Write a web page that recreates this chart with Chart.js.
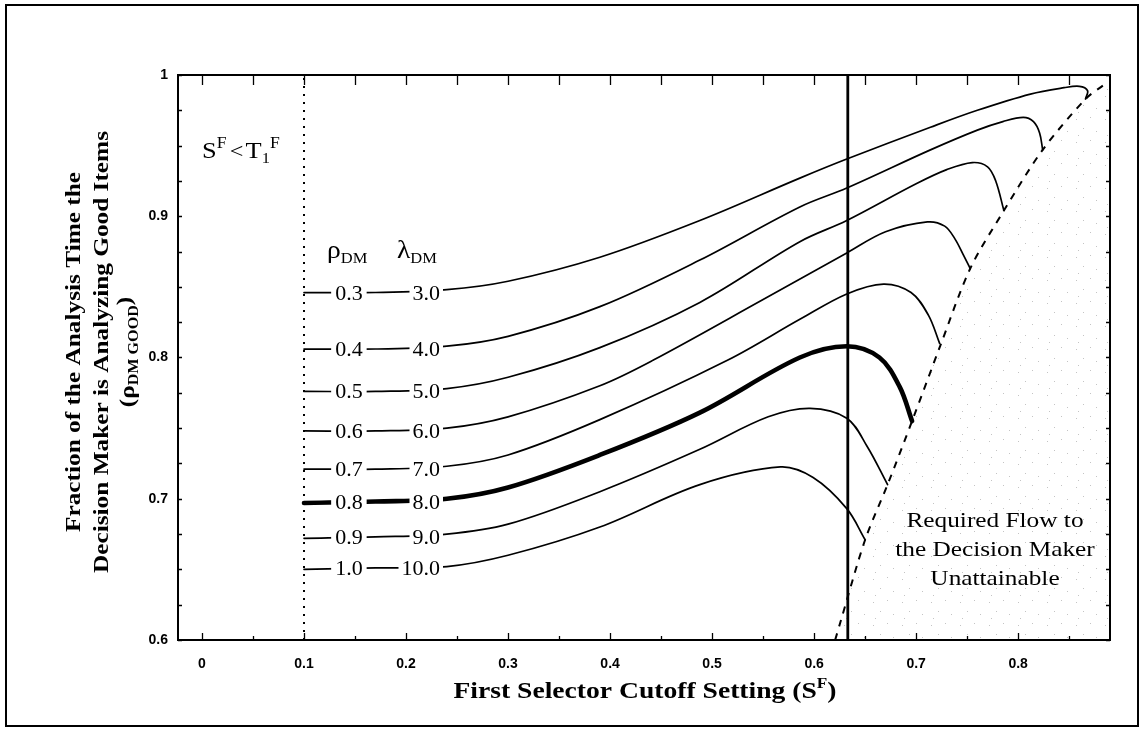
<!DOCTYPE html>
<html><head><meta charset="utf-8">
<script src="https://cdn.jsdelivr.net/npm/chart.js@4.4.0/dist/chart.umd.min.js"></script>
<style>html,body{margin:0;padding:0;background:#fff}canvas{display:block}</style>
</head><body>
<canvas id="c" width="1145" height="732"></canvas>
<script>
// ---------------- data ----------------
const xTickValues = [0, 0.1, 0.2, 0.3, 0.4, 0.5, 0.6, 0.7, 0.8];
const xTickLabels = ['0', '0.1', '0.2', '0.3', '0.4', '0.5', '0.6', '0.7', '0.8'];
const yTickValues = [0.6, 0.7, 0.8, 0.9, 1.0];
const yTickLabels = ['0.6', '0.7', '0.8', '0.9', '1'];
const rhoLabels = ['0.3', '0.4', '0.5', '0.6', '0.7', '0.8', '0.9', '1.0'];
const lambdaLabels = ['3.0', '4.0', '5.0', '6.0', '7.0', '8.0', '9.0', '10.0'];

const curve3 = [[0.1,0.846],[0.17,0.846],[0.24,0.848],[0.3,0.854],[0.39,0.871],[0.488,0.897],[0.586,0.927],[0.632,0.9405],[0.714,0.963],[0.76,0.975],[0.812,0.9865],[0.845,0.991],[0.86,0.992],[0.868,0.989],[0.866,0.983]];
const curve4 = [[0.1,0.806],[0.17,0.806],[0.24,0.808],[0.3,0.815],[0.39,0.836],[0.488,0.869],[0.586,0.9066],[0.632,0.920],[0.714,0.947],[0.76,0.961],[0.785,0.967],[0.805,0.970],[0.815,0.967],[0.821,0.959],[0.824,0.947]];
const curve5 = [[0.1,0.776],[0.17,0.776],[0.24,0.778],[0.3,0.786],[0.39,0.807],[0.488,0.839],[0.586,0.882],[0.632,0.897],[0.70,0.923],[0.73,0.933],[0.755,0.938],[0.77,0.935],[0.778,0.925],[0.786,0.904]];
const curve6 = [[0.1,0.748],[0.17,0.748],[0.24,0.750],[0.3,0.758],[0.39,0.780],[0.442,0.798],[0.55,0.841],[0.632,0.874],[0.67,0.889],[0.711,0.896],[0.728,0.893],[0.738,0.884],[0.746,0.873],[0.753,0.863]];
const curve7 = [[0.1,0.721],[0.17,0.721],[0.24,0.723],[0.3,0.731],[0.39,0.756],[0.515,0.798],[0.586,0.827],[0.632,0.845],[0.668,0.852],[0.695,0.846],[0.712,0.830],[0.723,0.810]];
const curve8 = [[0.1,0.697],[0.17,0.698],[0.24,0.700],[0.3,0.708],[0.39,0.731],[0.488,0.761],[0.586,0.800],[0.632,0.808],[0.664,0.800],[0.684,0.779],[0.696,0.755]];
const curve9 = [[0.1,0.672],[0.17,0.673],[0.24,0.675],[0.3,0.682],[0.39,0.705],[0.488,0.735],[0.555,0.758],[0.596,0.764],[0.632,0.757],[0.652,0.737],[0.672,0.710]];
const curve10 = [[0.1,0.650],[0.17,0.651],[0.24,0.652],[0.3,0.660],[0.39,0.680],[0.488,0.710],[0.567,0.7225],[0.599,0.715],[0.632,0.693],[0.650,0.671]];
const boundary = [[0.6206,0.6],[0.6255,0.612],[0.650,0.671],[0.672,0.710],[0.696,0.755],[0.7235,0.808],[0.753,0.863],[0.786,0.904],[0.824,0.947],[0.866,0.983],[0.884,0.993]];
const thresholdX = 0.1;
const cutoffX = 0.633;
const xMin = -0.0235, xMax = 0.89, yMin = 0.6, yMax = 1.0;

const curves = [curve3, curve4, curve5, curve6, curve7, curve8, curve9, curve10];
const thickIndex = 5;

// --------------- helpers ---------------
const SERIF = "'Liberation Serif', 'Times New Roman', serif";
const SANS = "'Liberation Sans', Arial, sans-serif";
const SX = 1.15; // widen serif text toward book-face proportions
const pts = a => a.map(p => ({x: p[0], y: p[1]}));

function stipple() {
  const c = document.createElement('canvas');
  c.width = 29; c.height = 23;
  const g = c.getContext('2d');
  g.fillStyle = '#c4c4c4';
  [[3,4],[17,2],[10,13],[23,16],[5,20]].forEach(p => g.fillRect(p[0], p[1], 1, 1));
  return g.createPattern(c, 'repeat');
}

function rich(ctx, segs, x, y, align, sx) {
  sx = sx || 1;
  let total = 0;
  segs.forEach(s => { ctx.font = s.f; total += (ctx.measureText(s.t).width + (s.gap || 0)) * sx; });
  let cx = align === 'center' ? x - total / 2 : (align === 'right' ? x - total : x);
  const prev = ctx.textAlign;
  ctx.textAlign = 'left';
  segs.forEach(s => {
    ctx.font = s.f;
    ctx.save();
    ctx.translate(cx, y + (s.dy || 0));
    ctx.scale(sx, 1);
    ctx.fillText(s.t, 0, 0);
    ctx.restore();
    cx += (ctx.measureText(s.t).width + (s.gap || 0)) * sx;
  });
  ctx.textAlign = prev;
}

const datasets = [];
datasets.push({
  data: pts(boundary.concat([[xMax, 0.995], [xMax, yMin]])),
  showLine: true, borderWidth: 0, borderColor: 'rgba(0,0,0,0)',
  backgroundColor: stipple(), fill: 'shape', pointRadius: 0, tension: 0, order: 20
});
curves.forEach((c, i) => datasets.push({
  data: pts(c), showLine: true, borderColor: '#000',
  borderWidth: i === thickIndex ? 4.6 : 1.7, pointRadius: 0, tension: 0.35,
  fill: false, order: 2, borderCapStyle: 'round'
}));
datasets.push({
  data: pts(boundary), showLine: true, borderColor: '#000', borderWidth: 2,
  borderDash: [7, 7], pointRadius: 0, tension: 0.3, fill: false, order: 3
});
datasets.push({
  data: pts([[cutoffX, yMin], [cutoffX, yMax]]), showLine: true, borderColor: '#000',
  borderWidth: 2.8, pointRadius: 0, fill: false, order: 1
});
datasets.push({
  data: pts([[thresholdX, yMin], [thresholdX, yMax]]), showLine: true, borderColor: '#000',
  borderWidth: 2, borderDash: [2, 6], pointRadius: 0, fill: false, order: 4
});

const decor = {
  id: 'decor',
  beforeDraw(chart) {
    const ctx = chart.ctx;
    ctx.save();
    ctx.fillStyle = '#fff';
    ctx.fillRect(0, 0, chart.width, chart.height);
    ctx.restore();
  },
  afterDatasetsDraw(chart) {
    const ctx = chart.ctx, a = chart.chartArea;
    const xs = chart.scales.x, ys = chart.scales.y;
    ctx.save();
    // outer frame
    ctx.strokeStyle = '#000'; ctx.lineWidth = 2;
    ctx.strokeRect(6, 5, 1132, 721);
    // plot border
    ctx.lineWidth = 2;
    ctx.strokeRect(a.left, a.top, a.right - a.left, a.bottom - a.top);
    // ticks
    ctx.lineWidth = 1.3;
    ctx.beginPath();
    for (let v = 0; v <= 0.851; v += 0.05) {
      const px = Math.round(xs.getPixelForValue(v)) + 0.5;
      const major = Math.abs(v * 10 - Math.round(v * 10)) < 1e-6;
      ctx.moveTo(px, a.bottom); ctx.lineTo(px, a.bottom - (major ? 7 : 4));
      ctx.moveTo(px, a.top); ctx.lineTo(px, a.top + 10);
    }
    for (let v = 0.6; v <= 1.0001; v += 0.025) {
      const py = Math.round(ys.getPixelForValue(v)) + 0.5;
      ctx.moveTo(a.left, py); ctx.lineTo(a.left + 4, py);
      ctx.moveTo(a.right, py); ctx.lineTo(a.right - 4, py);
    }
    ctx.stroke();

    // curve labels
    ctx.fillStyle = '#000';
    ctx.textBaseline = 'alphabetic';
    const lf = '22px ' + SERIF;
    curves.forEach((c, i) => {
      const py = ys.getPixelForValue(c[1][1]);
      const rx = xs.getPixelForValue(0.144);
      const lx = xs.getPixelForValue(0.2333);
      ctx.font = lf;
      const rw = ctx.measureText(rhoLabels[i]).width;
      const lw = ctx.measureText(lambdaLabels[i]).width;
      ctx.fillStyle = '#fff';
      ctx.fillRect(rx - rw / 2 - 4, py - 14, rw + 8, 26);
      ctx.fillRect(lx - lw - 3, py - 14, lw + 6, 26);
      ctx.fillStyle = '#000';
      ctx.textAlign = 'center';
      ctx.fillText(rhoLabels[i], rx, py + 7);
      ctx.textAlign = 'right';
      ctx.fillText(lambdaLabels[i], lx, py + 7);
    });
    ctx.textAlign = 'left';
    // header rho_DM lambda_DM
    rich(ctx, [{t: 'ρ', f: '25px ' + SERIF}, {t: 'DM', f: '15px ' + SERIF, dy: 5}], 327, 258, 'left', 1.1);
    rich(ctx, [{t: 'λ', f: '25px ' + SERIF}, {t: 'DM', f: '15px ' + SERIF, dy: 5}], 397, 258, 'left', 1.1);
    // S^F < T_1^F
    rich(ctx, [
      {t: 'S', f: '24px ' + SERIF},
      {t: 'F', f: '16px ' + SERIF, dy: -10, gap: 3},
      {t: '<', f: '22px ' + SERIF, gap: 2},
      {t: 'T', f: '24px ' + SERIF},
      {t: '1', f: '15px ' + SERIF, dy: 5},
      {t: 'F', f: '16px ' + SERIF, dy: -10}
    ], 202, 158, 'left', 1.1);
    // unattainable text
    const uf = '22px ' + SERIF;
    rich(ctx, [{t: 'Required Flow to', f: uf}], 995, 527, 'center', SX);
    rich(ctx, [{t: 'the Decision Maker', f: uf}], 995, 556, 'center', SX);
    rich(ctx, [{t: 'Unattainable', f: uf}], 995, 585, 'center', SX);

    // x title
    rich(ctx, [
      {t: 'First Selector Cutoff Setting (S', f: 'bold 24px ' + SERIF},
      {t: 'F', f: 'bold 15px ' + SERIF, dy: -10},
      {t: ')', f: 'bold 24px ' + SERIF}
    ], 645, 698, 'center', SX);

    // y title
    ctx.save();
    ctx.translate(0, 352);
    ctx.rotate(-Math.PI / 2);
    const yf = 'bold 22px ' + SERIF;
    rich(ctx, [{t: 'Fraction of the Analysis Time the', f: yf}], 0, 80, 'center', SX);
    rich(ctx, [{t: 'Decision Maker is Analyzing Good Items', f: yf}], 0, 108, 'center', SX);
    rich(ctx, [
      {t: '(ρ', f: yf},
      {t: 'DM GOOD', f: 'bold 14px ' + SERIF, dy: 4},
      {t: ')', f: yf, dy: -3}
    ], 0, 134, 'center', SX);
    ctx.restore();

    ctx.restore();
  }
};

new Chart(document.getElementById('c'), {
  type: 'scatter',
  data: { datasets },
  options: {
    responsive: false, animation: false, devicePixelRatio: 1,
    layout: { padding: { left: 0, top: 75, right: 35, bottom: 0 } },
    plugins: { legend: { display: false }, tooltip: { enabled: false } },
    scales: {
      x: {
        type: 'linear', min: xMin, max: xMax,
        grid: { display: false, drawTicks: false }, border: { display: false },
        afterBuildTicks: s => { s.ticks = xTickValues.map(v => ({ value: v })); },
        afterFit: s => { s.height = 92; },
        ticks: {
          padding: 16, color: '#000', font: { family: SANS, size: 14, weight: 'bold' },
          maxRotation: 0, autoSkip: false,
          callback: v => { const i = xTickValues.findIndex(t => Math.abs(t - v) < 1e-9); return i >= 0 ? xTickLabels[i] : ''; }
        }
      },
      y: {
        type: 'linear', min: yMin, max: yMax,
        grid: { display: false, drawTicks: false }, border: { display: false },
        afterBuildTicks: s => { s.ticks = yTickValues.map(v => ({ value: v })); },
        afterFit: s => { s.width = 178; },
        ticks: {
          padding: 10, color: '#000', font: { family: SANS, size: 14, weight: 'bold' },
          autoSkip: false,
          callback: v => { const i = yTickValues.findIndex(t => Math.abs(t - v) < 1e-9); return i >= 0 ? yTickLabels[i] : ''; }
        }
      }
    }
  },
  plugins: [decor]
});
</script>
</body></html>
